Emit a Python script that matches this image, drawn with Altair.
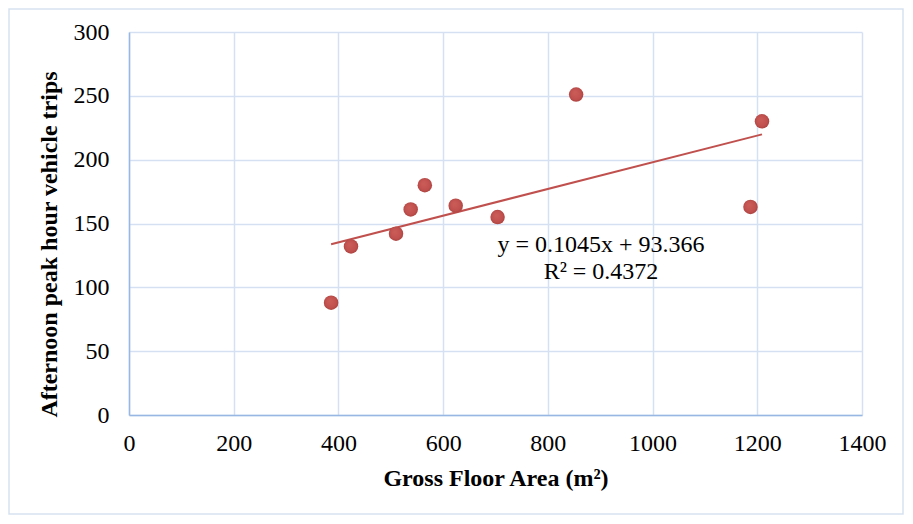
import altair as alt
import pandas as pd

gfa = [386, 424, 510, 538, 565, 624, 704, 854, 1187, 1209]
trips = [88, 132, 142, 161, 180, 164, 155, 251, 163, 230]
eq_lines = ["y = 0.1045x + 93.366", "R² = 0.4372"]
x_ticks = [0, 200, 400, 600, 800, 1000, 1200, 1400]
y_ticks = [0, 50, 100, 150, 200, 250, 300]

df = pd.DataFrame({"gfa": gfa, "trips": trips})

FONT = "Liberation Serif"
RED = "#C0504D"
GRID = "#D5E1F2"
DOMAIN = "#98B8E3"

W, H = 733, 383

xscale = alt.Scale(domain=[0, 1400], nice=False, zero=True)
yscale = alt.Scale(domain=[0, 300], nice=False, zero=True)

xaxis = alt.Axis(
    title="Gross Floor Area (m²)", values=x_ticks, ticks=False, format="d",
    labelFlush=False,
    labelFont=FONT, labelFontSize=24, labelColor="black", labelPadding=16,
    titleFont=FONT, titleFontSize=24, titleFontWeight="bold", titleColor="black",
    titleY=63, titleBaseline="middle",
    gridColor=GRID, gridWidth=1.5, domainColor=DOMAIN, domainWidth=1.5,
)
yaxis = alt.Axis(
    title="Afternoon peak hour vehicle trips", values=y_ticks, ticks=False, format="d",
    labelFlush=False,
    labelFont=FONT, labelFontSize=24, labelColor="black", labelPadding=20,
    titleFont=FONT, titleFontSize=24, titleFontWeight="bold", titleColor="black",
    titleX=-80, titleY=212, titleBaseline="middle", titleAlign="center", titleAngle=270,
    gridColor=GRID, gridWidth=1.5, domainColor=DOMAIN, domainWidth=1.5,
)

border = alt.Chart(pd.DataFrame({"a": [0]})).mark_rect(
    fill=None, stroke="#D6E2F1", strokeWidth=1.5, clip=False
).encode(
    x=alt.value(-120), x2=alt.value(W + 41), y=alt.value(-23), y2=alt.value(H + 99)
)

base = alt.Chart(df)

pts = base.mark_circle(
    size=210, opacity=1,
    fill=alt.RadialGradient(
        gradient="radial", x1=0.4, y1=0.35, r1=0.0, x2=0.5, y2=0.5, r2=0.55,
        stops=[alt.GradientStop(offset=0, color="#CC5E5A"),
               alt.GradientStop(offset=0.7, color=RED),
               alt.GradientStop(offset=1, color="#A6403D")],
    ),
).encode(
    x=alt.X("gfa:Q", scale=xscale, axis=xaxis),
    y=alt.Y("trips:Q", scale=yscale, axis=yaxis),
)

trend = base.transform_regression("gfa", "trips", method="linear").mark_line(
    color=RED, strokeWidth=2
).encode(
    x=alt.X("gfa:Q", scale=xscale, axis=xaxis),
    y=alt.Y("trips:Q", scale=yscale, axis=yaxis),
)

eq_df = pd.DataFrame({"t": eq_lines})
eq_layers = []
for i, line in enumerate(eq_lines):
    eq_layers.append(
        alt.Chart(eq_df).transform_filter(alt.datum.t == line).mark_text(
            font=FONT, fontSize=24, color="black", align="center", baseline="middle"
        ).encode(
            text="t:N",
            x=alt.value(472),
            y=alt.value(213 + 27 * i),
        )
    )

chart = alt.layer(border, trend, pts, *eq_layers).properties(
    width=W, height=H,
    autosize=alt.AutoSizeParams(type="none"),
    padding={"left": 121, "top": 24, "right": 43, "bottom": 101},
    background="white",
).configure_view(stroke=None)

chart.save("out.html", embed_options={"renderer": "svg", "actions": False})
